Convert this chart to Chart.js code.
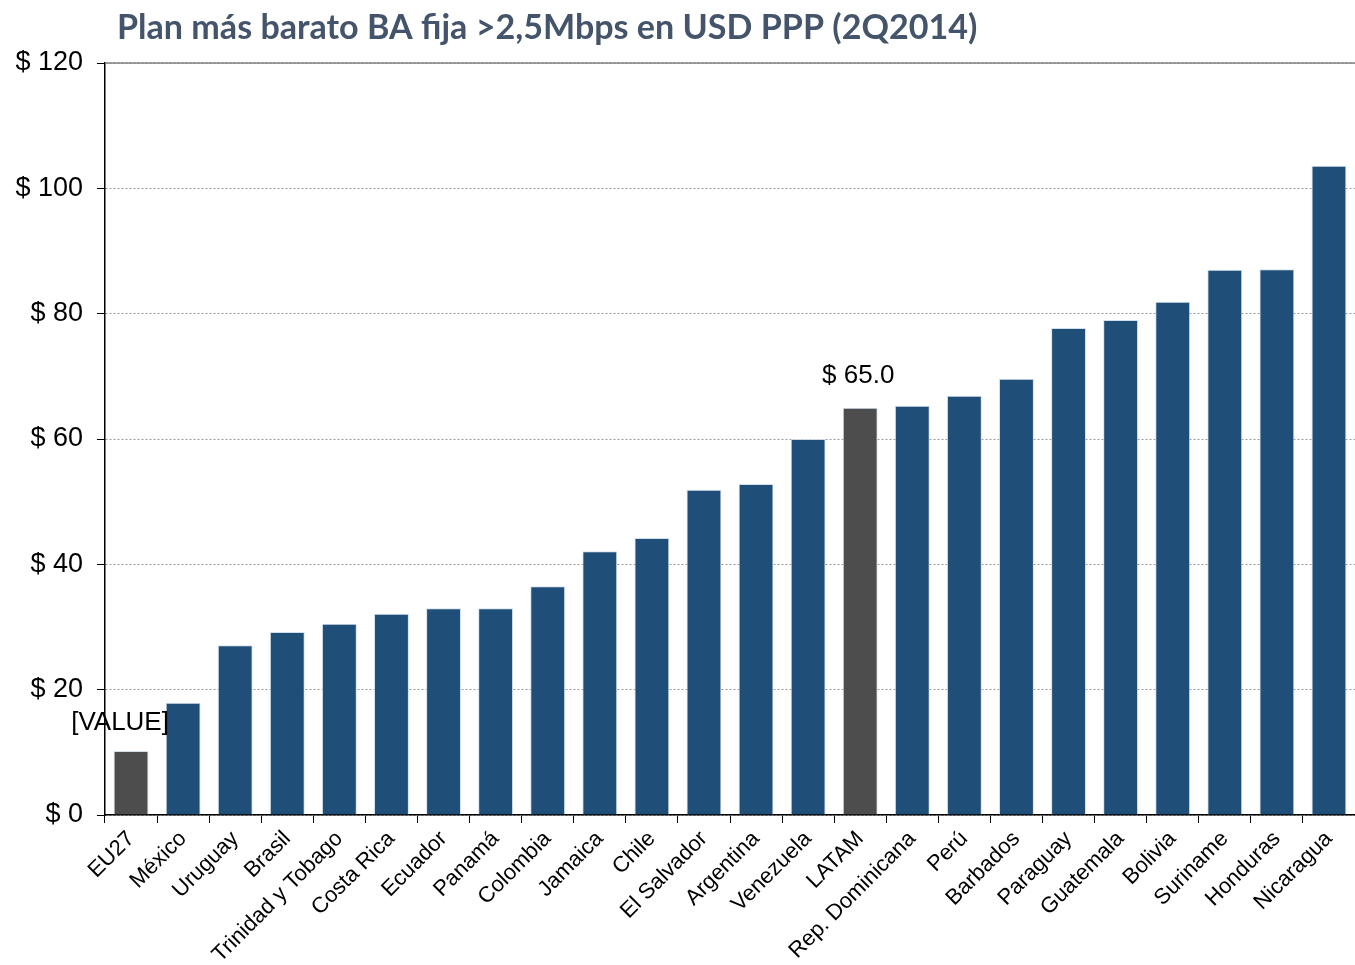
<!DOCTYPE html>
<html lang="es">
<head>
<meta charset="UTF-8" />
<title>Plan más barato BA fija</title>
<script src="https://cdn.jsdelivr.net/npm/chart.js@4.4.0/dist/chart.umd.min.js"></script>
<style>
  html, body { margin: 0; padding: 0; background: #fff; }
  #board { width: 1355px; height: 965px; }
</style>
</head>
<body>
<div id="board"><canvas id="chart1" width="1355" height="965"></canvas></div>
<script>
const categories = ['EU27', 'México', 'Uruguay', 'Brasil', 'Trinidad y Tobago', 'Costa Rica', 'Ecuador', 'Panamá',
  'Colombia', 'Jamaica', 'Chile', 'El Salvador', 'Argentina', 'Venezuela', 'LATAM', 'Rep. Dominicana', 'Perú',
  'Barbados', 'Paraguay', 'Guatemala', 'Bolivia', 'Suriname', 'Honduras', 'Nicaragua'];
const prices = [10.2, 17.9, 27.1, 29.2, 30.5, 32.1, 33.0, 33.0, 36.5, 42.1, 44.2, 51.9, 52.8, 60.0, 65.0, 65.3, 66.9,
  69.6, 77.7, 79.0, 81.9, 87.0, 87.1, 103.6];
const yTicks = [0, 20, 40, 60, 80, 100, 120];
// etiquetas sobre las barras (EU27 y LATAM)
const barLabels = { 0: '[VALUE]', 14: '$ 65.0' };
const titleText = 'Plan más barato BA fija >2,5Mbps en USD PPP (2Q2014)';

const blue = '#1f4e79';
const grey = '#4d4d4d';
const barColors = categories.map(c => (c === 'EU27' || c === 'LATAM') ? grey : blue);
const arial = '"Liberation Sans", Arial, sans-serif';

const extras = {
  id: 'extras',
  afterDatasetsDraw(chart) {
    const ctx = chart.ctx;
    const area = chart.chartArea;
    ctx.save();
    // linea superior solida
    ctx.strokeStyle = '#808080';
    ctx.lineWidth = 1.5;
    ctx.beginPath();
    ctx.moveTo(area.left, area.top);
    ctx.lineTo(area.right, area.top);
    ctx.stroke();

    // etiquetas de datos
    const meta = chart.getDatasetMeta(0);
    ctx.fillStyle = '#000';
    ctx.font = '26px ' + arial;
    ctx.textAlign = 'center';
    ctx.textBaseline = 'middle';
    Object.keys(barLabels).forEach(i => {
      const bar = meta.data[i];
      const dx = (+i === 0) ? -11 : -2;
      ctx.fillText(barLabels[i], bar.x + dx, bar.y - (+i === 0 ? 28 : 32));
    });

    // titulo
    ctx.fillStyle = '#44546a';
    ctx.textAlign = 'left';
    ctx.font = 'bold 32px Lato, "Open Sans", sans-serif';
    const w = ctx.measureText(titleText).width;
    const size = 32 * 860 / w;
    ctx.font = 'bold ' + size.toFixed(1) + 'px Lato, "Open Sans", sans-serif';
    ctx.fillText(titleText, 117, 28);
    ctx.restore();
  }
};

new Chart(document.getElementById('chart1'), {
  type: 'bar',
  data: {
    labels: categories,
    datasets: [{
      data: prices,
      backgroundColor: barColors,
      borderColor: 'rgba(200,215,230,0.8)',
      borderWidth: 1,
      barPercentage: 0.67,
      categoryPercentage: 1.0
    }]
  },
  options: {
    responsive: false,
    animation: false,
    layout: { padding: { top: 63, left: 0, right: 0, bottom: 0 } },
    plugins: {
      legend: { display: false },
      tooltip: { enabled: false },
      title: { display: false }
    },
    scales: {
      x: {
        grid: { display: true, drawOnChartArea: false, drawTicks: true, tickLength: 8, color: '#000', offset: true },
        border: { display: true, color: '#000', width: 1.5 },
        ticks: {
          color: '#000',
          font: { family: arial, size: 22 },
          minRotation: 45,
          maxRotation: 45,
          autoSkip: false,
          padding: 3
        },
        afterFit(scale) { scale.height = 150; }
      },
      y: {
        min: 0,
        max: 120,
        afterBuildTicks(scale) { scale.ticks = yTicks.map(v => ({ value: v })); },
        grid: { color: '#9a9a9a', tickColor: '#000', tickLength: 8, lineWidth: 1 },
        border: { display: true, color: '#000', width: 1.5, dash: [2, 2] },
        ticks: {
          color: '#000',
          font: { family: arial, size: 27 },
          padding: 14,
          callback: v => '$ ' + v
        },
        afterFit(scale) { scale.width = 105; }
      }
    }
  },
  plugins: [extras]
});
</script>
</body>
</html>
